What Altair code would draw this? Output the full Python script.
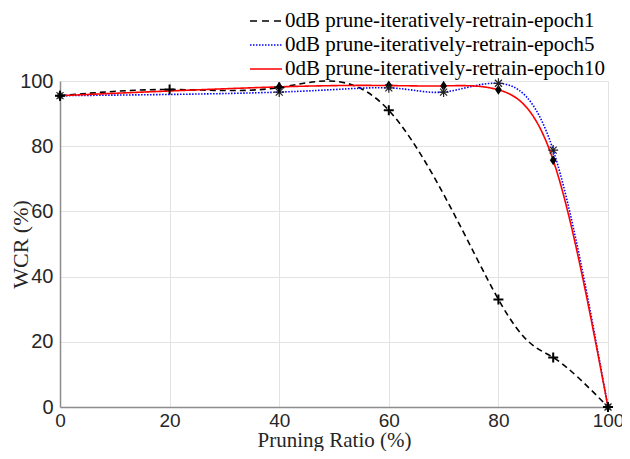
import altair as alt
import pandas as pd

# Series 1: epoch1
x_e1 = [0, 20, 40, 60, 80, 90, 100]
y_e1 = [95.5, 97.4, 98.0, 91.0, 33.0, 15.2, 0.0]
# Series 2: epoch5
x_e5 = [0, 40, 60, 70, 80, 90, 100]
y_e5 = [95.5, 96.6, 97.9, 96.6, 99.3, 78.8, 0.0]
# Series 3: epoch10
x_e10 = [0, 40, 60, 70, 80, 90, 100]
y_e10 = [95.5, 98.2, 98.6, 98.5, 97.3, 75.7, 0.0]

names = [
    "0dB prune-iteratively-retrain-epoch1",
    "0dB prune-iteratively-retrain-epoch5",
    "0dB prune-iteratively-retrain-epoch10",
]
colors = ["#000000", "#0000ff", "#ff0000"]
dashes = [[6, 4], [1.5, 1.5], [1, 0]]

rows = []
for n, xs, ys in zip(names, [x_e1, x_e5, x_e10], [y_e1, y_e5, y_e10]):
    for a, b in zip(xs, ys):
        rows.append({"series": n, "x": a, "y": b})
df = pd.DataFrame(rows)

xscale = alt.Scale(domain=[0, 100], nice=False)
yscale = alt.Scale(domain=[0, 100], nice=False)

xaxis = alt.Axis(values=[0, 20, 40, 60, 80, 100], title="Pruning Ratio (%)",
                 labelFont="Liberation Sans", labelFontSize=19, labelColor="#262626",
                 labelPadding=4, labelFlush=False, ticks=False, domainColor="#8c8c8c",
                 domainWidth=1.5, gridColor="#e3e3e3", titleFont="Liberation Serif",
                 titleFontSize=21, titleFontWeight="normal", titleColor="#262626",
                 titleBaseline="alphabetic", titleY=39)
yaxis = alt.Axis(values=[0, 20, 40, 60, 80, 100], title="WCR (%)",
                 labelFont="Liberation Sans", labelFontSize=20, labelColor="#262626",
                 labelPadding=7, labelFlush=False, ticks=False, domainColor="#8c8c8c",
                 domainWidth=1.5, gridColor="#e3e3e3", titleFont="Liberation Serif",
                 titleFontSize=22, titleFontWeight="normal", titleColor="#262626",
                 titleBaseline="alphabetic", titleX=-33, titleAngle=-90)

color = alt.Color("series:N", scale=alt.Scale(domain=names, range=colors), legend=None)
dash = alt.StrokeDash("series:N", scale=alt.Scale(domain=names, range=dashes), legend=None)

lines = alt.Chart(df).mark_line(interpolate="natural", strokeWidth=1.6).encode(
    x=alt.X("x:Q", scale=xscale, axis=xaxis),
    y=alt.Y("y:Q", scale=yscale, axis=yaxis),
    color=color,
    strokeDash=dash,
    order=alt.Order("x:Q"),
)

plus_path = "M-1,0L1,0M0,-1L0,1"
star_path = "M-1,0L1,0M0,-1L0,1M-0.7,-0.7L0.7,0.7M-0.7,0.7L0.7,-0.7"
diamond_path = "M0,-1.2L0.8,0L0,1.2L-0.8,0Z"

p1 = alt.Chart(df[df.series == names[0]]).mark_point(
    shape=plus_path, filled=False, color="black", strokeWidth=2, size=100, opacity=1
).encode(x="x:Q", y="y:Q")
p2 = alt.Chart(df[df.series == names[1]]).mark_point(
    shape=star_path, filled=False, color="#222222", strokeWidth=1.2, size=100, opacity=1
).encode(x="x:Q", y="y:Q")
p3 = alt.Chart(df[df.series == names[2]]).mark_point(
    shape=diamond_path, filled=True, color="black", size=70, opacity=1
).encode(x="x:Q", y="y:Q")

# manual legend above the plot
legend_layers = []
leg_y = [-60, -36, -12]
leg_dash = [[7, 5], [1.5, 1.5], [1, 0]]
for i, n in enumerate(names):
    ldf = pd.DataFrame({"series": [n]})
    legend_layers.append(
        alt.Chart(ldf).mark_rule(color=colors[i], strokeDash=leg_dash[i], strokeWidth=1.6)
        .encode(x=alt.value(190), x2=alt.value(222), y=alt.value(leg_y[i]))
    )
    legend_layers.append(
        alt.Chart(ldf).mark_text(align="left", baseline="middle", font="Liberation Serif",
                                 fontSize=21, color="black")
        .encode(x=alt.value(225), y=alt.value(leg_y[i]), text="series:N")
    )

chart = alt.layer(lines, p3, p2, p1, *legend_layers).properties(
    width=548, height=326,
    autosize=alt.AutoSizeParams(type="none"),
    padding={"left": 52, "top": 73, "right": 14, "bottom": 44},
    background="white",
).configure_view(stroke=None)

chart.save("out.html", embed_options={"renderer": "svg", "actions": False})
